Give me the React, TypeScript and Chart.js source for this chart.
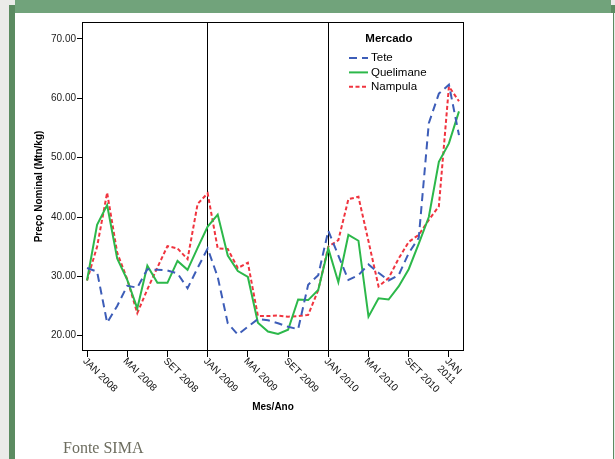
import React, { useEffect, useRef } from 'react';
import { Chart, registerables } from 'chart.js';

Chart.register(...registerables);

const months = [
  'JAN 2008', 'FEV 2008', 'MAR 2008', 'ABR 2008', 'MAI 2008', 'JUN 2008', 'JUL 2008', 'AGO 2008', 'SET 2008', 'OUT 2008', 'NOV 2008', 'DEZ 2008',
  'JAN 2009', 'FEV 2009', 'MAR 2009', 'ABR 2009', 'MAI 2009', 'JUN 2009', 'JUL 2009', 'AGO 2009', 'SET 2009', 'OUT 2009', 'NOV 2009', 'DEZ 2009',
  'JAN 2010', 'FEV 2010', 'MAR 2010', 'ABR 2010', 'MAI 2010', 'JUN 2010', 'JUL 2010', 'AGO 2010', 'SET 2010', 'OUT 2010', 'NOV 2010', 'DEZ 2010',
  'JAN 2011', 'FEV 2011',
];

const tete = [
  31.4, 30.8, 22.2, 25.0, 28.4, 28.1, 31.2, 31.1, 31.0, 30.5, 28.0, 31.4,
  34.7, 29.9, 22.1, 20.2, 21.5, 22.8, 22.6, 22.1, 21.5, 21.1, 28.6, 30.2,
  37.7, 33.5, 29.4, 30.2, 32.0, 30.6, 29.3, 30.2, 33.9, 36.5, 55.8, 60.8,
  62.3, 53.8,
];

const quelimane = [
  29.3, 38.7, 42.0, 33.0, 29.4, 24.6, 31.8, 28.9, 28.9, 32.6, 31.1, 34.8,
  38.4, 40.4, 33.5, 30.9, 29.9, 22.2, 20.7, 20.3, 21.0, 26.1, 26.0, 27.7,
  34.7, 29.0, 37.0, 36.0, 23.2, 26.3, 26.1, 28.3, 31.2, 35.5, 40.0, 49.3,
  52.4, 57.8,
];

const nampula = [
  29.3, 35.0, 44.1, 34.0, 29.5, 23.8, 27.8, 31.5, 35.1, 34.7, 32.9, 42.2,
  44.0, 34.7, 34.6, 31.4, 32.3, 23.3, 23.3, 23.4, 23.2, 23.3, 23.5, 27.7,
  35.0, 36.1, 43.0, 43.4, 35.9, 28.3, 29.7, 33.0, 35.8, 37.0, 39.5, 41.8,
  62.0, 59.5,
];

const tickLabels = ['JAN 2008', 'MAI 2008', 'SET 2008', 'JAN 2009', 'MAI 2009', 'SET 2009', 'JAN 2010', 'MAI 2010', 'SET 2010', 'JAN 2011'];
const wrappedTickLabels = ['JAN 2011'];
const dividerMonths = ['JAN 2009', 'JAN 2010'];
const yTicks = [20, 30, 40, 50, 60, 70];
const seriesNames = ['Tete', 'Quelimane', 'Nampula'];
const legendTitle = 'Mercado';
const yTitle = 'Preço Nominal (Mtn/kg)';
const xTitle = 'Mes/Ano';
const sourceText = 'Fonte SIMA';

const FONT = '"Liberation Sans", Arial, sans-serif';

const framePlugin = {
  id: 'spssFrame',
  afterDraw(chart: any) {
    const ctx = chart.ctx as CanvasRenderingContext2D;
    const area = chart.chartArea;
    const xs = chart.scales.x;
    ctx.save();
    ctx.strokeStyle = '#000';
    ctx.lineWidth = 1;
    ctx.setLineDash([]);
    const l = Math.round(area.left) + 0.5;
    const t = Math.round(area.top) + 0.5;
    const r = Math.round(area.right) - 0.5;
    const b = Math.round(area.bottom) - 0.5;
    ctx.strokeRect(l, t, r - l, b - t);

    ctx.font = `10px ${FONT}`;
    ctx.fillStyle = '#111';
    ctx.textAlign = 'left';
    ctx.textBaseline = 'top';
    xs.ticks.forEach((_t: any, i: number) => {
      const label = months[i];
      if (!tickLabels.includes(label)) return;
      const lines = wrappedTickLabels.includes(label) ? label.split(' ') : [label];
      const px = xs.getPixelForTick(i);
      ctx.save();
      ctx.translate(px + 1, xs.top + 5);
      ctx.rotate(Math.PI / 4);
      lines.forEach((ln, k) => ctx.fillText(ln, 0, k * 11));
      ctx.restore();
    });

    const lx = area.right - 115;
    ctx.fillStyle = '#000';
    ctx.font = `bold 11.5px ${FONT}`;
    ctx.textAlign = 'center';
    ctx.textBaseline = 'middle';
    ctx.fillText(legendTitle, lx + 40, area.top + 17);
    chart.data.datasets.forEach((ds: any, k: number) => {
      const y = area.top + 36 + k * 14.4;
      ctx.strokeStyle = ds.borderColor;
      ctx.lineWidth = 2;
      ctx.setLineDash(ds.borderDash || []);
      ctx.beginPath();
      ctx.moveTo(lx, y);
      ctx.lineTo(lx + 19, y);
      ctx.stroke();
      ctx.setLineDash([]);
      ctx.fillStyle = '#000';
      ctx.textAlign = 'left';
      ctx.font = `11.5px ${FONT}`;
      ctx.fillText(ds.label, lx + 22, y);
    });
    ctx.restore();
  },
};

export default function App() {
  const canvasRef = useRef<HTMLCanvasElement | null>(null);

  useEffect(() => {
    if (!canvasRef.current) return;
    const chart = new Chart(canvasRef.current, {
      type: 'line',
      data: {
        labels: months,
        datasets: [
          { label: seriesNames[0], data: tete, borderColor: '#3d5db8', borderWidth: 2, borderDash: [8, 5], pointRadius: 0, tension: 0, fill: false },
          { label: seriesNames[1], data: quelimane, borderColor: '#2cb84a', borderWidth: 2, pointRadius: 0, tension: 0, fill: false },
          { label: seriesNames[2], data: nampula, borderColor: '#f0343f', borderWidth: 2, borderDash: [4, 2.5], pointRadius: 0, tension: 0, fill: false },
        ],
      },
      options: {
        animation: false,
        responsive: false,
        devicePixelRatio: 1,
        layout: { padding: { left: 0, top: 22, right: 151, bottom: 0 } },
        plugins: { legend: { display: false }, tooltip: { enabled: false }, title: { display: false } },
        scales: {
          x: {
            type: 'category',
            offset: true,
            afterFit: (s: any) => { s.height = 108; },
            border: { display: false },
            grid: {
              offset: false,
              drawOnChartArea: true,
              drawTicks: true,
              tickLength: 6,
              lineWidth: 1,
              color: (c: any) => (dividerMonths.includes(months[c.index]) ? '#000' : 'rgba(0,0,0,0)'),
              tickColor: (c: any) => (tickLabels.includes(months[c.index]) ? '#000' : 'rgba(0,0,0,0)'),
            },
            ticks: { display: false, autoSkip: false, maxRotation: 0 },
            title: { display: true, text: xTitle, color: '#000', font: { family: FONT, size: 10, weight: 'bold' }, padding: { top: 0, bottom: 46 } },
          },
          y: {
            type: 'linear',
            min: 17.42,
            max: 72.86,
            afterFit: (s: any) => { s.width = 82; },
            afterBuildTicks: (s: any) => { s.ticks = yTicks.map((v) => ({ value: v })); },
            border: { display: false },
            grid: { drawOnChartArea: false, drawTicks: true, tickLength: 5, tickColor: '#000' },
            ticks: { color: '#222', padding: 1, font: { family: FONT, size: 10 }, callback: (v: any) => Number(v).toFixed(2) },
            title: { display: true, text: yTitle, color: '#000', font: { family: FONT, size: 10, weight: 'bold' }, padding: { top: 33, bottom: 0 } },
          },
        },
      },
      plugins: [framePlugin],
    } as any);
    return () => chart.destroy();
  }, []);

  return (
    <div style={{ position: 'fixed', left: 0, top: 0, width: 615, height: 459, overflow: 'hidden', background: '#ebebe9' }}>
      <div style={{ position: 'absolute', left: 9, top: 5, width: 6, height: 454, background: '#5b8b61' }} />
      <div style={{ position: 'absolute', left: 15, top: 13, width: 598, height: 446, background: '#ffffff' }} />
      <div style={{ position: 'absolute', left: 15, top: 0, width: 596, height: 13, background: '#71a37b' }} />
      <div style={{ position: 'absolute', left: 611, top: 5, width: 4, height: 8, background: '#5b8b61' }} />
      <div style={{ position: 'absolute', left: 613, top: 5, width: 1, height: 454, background: '#5b8b61' }} />
      <canvas ref={canvasRef} width={615} height={459} style={{ position: 'absolute', left: 0, top: 0, display: 'block' }} />
      <div style={{ position: 'absolute', left: 63, top: 440, font: '16px "Liberation Serif", "Times New Roman", serif', lineHeight: '16px', color: '#6d6d5f' }}>
        {sourceText}
      </div>
    </div>
  );
}
